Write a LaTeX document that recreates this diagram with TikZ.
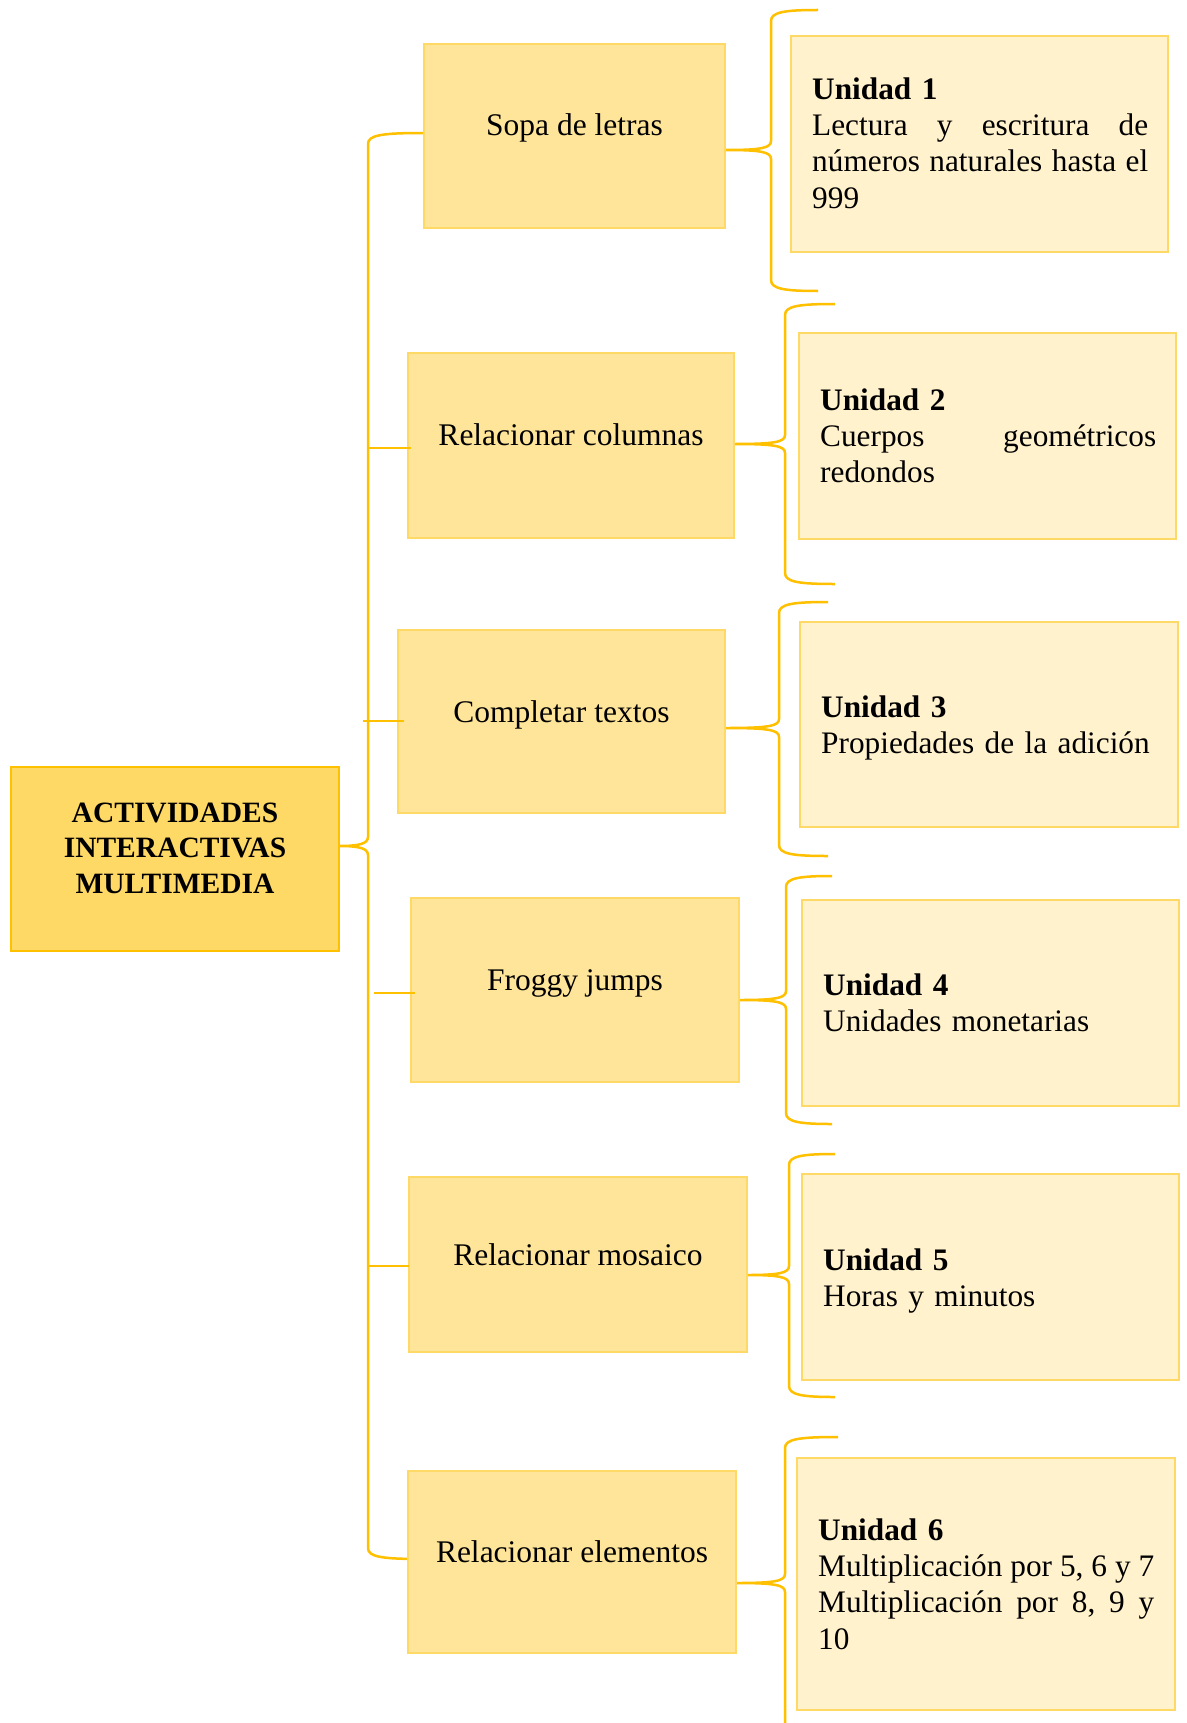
\documentclass[tikz,border=0pt]{standalone}
\usepackage{fontspec}
\setmainfont{Liberation Serif}
\definecolor{braceC}{HTML}{FFC000}
\definecolor{mainFill}{HTML}{FFD966}
\definecolor{midFill}{HTML}{FFE599}
\definecolor{midLine}{HTML}{FFD966}
\definecolor{unitFill}{HTML}{FFF2CC}
\definecolor{unitLine}{HTML}{FFD966}
\newcommand{\jl}[1]{\leavevmode\hbox to 336pt{#1}}
\newcommand{\gap}{\hfil}
% xv, xend, xtip, ytop, ytip, ybot
\newcommand{\wbrace}[6]{%
  \draw[bracestyle] (#2,#4) .. controls ({#1+14},#4) and (#1,{#4+2}) .. (#1,{#4+11})
    -- (#1,{#5-9}) .. controls (#1,{#5-2}) and ({#1-10},#5) .. (#3,#5)
    .. controls ({#1-10},#5) and (#1,{#5+2}) .. (#1,{#5+9})
    -- (#1,{#6-11}) .. controls (#1,{#6-2}) and ({#1+14},#6) .. (#2,#6);}
\begin{document}
\begin{tikzpicture}[x=1pt,y=-1pt,
  bracestyle/.style={draw=braceC,line width=2.5pt,line join=round},
  mainbox/.style={draw=braceC,fill=mainFill,line width=2.2pt,inner sep=0pt,outer sep=0pt,anchor=north west},
  actbox/.style={draw=midLine,fill=midFill,line width=1.6pt,inner sep=0pt,outer sep=0pt,anchor=north west},
  unitbox/.style={draw=unitLine,fill=unitFill,line width=1.6pt,inner sep=0pt,outer sep=0pt,anchor=north west},
  acttxt/.style={inner sep=0pt,anchor=base,font=\fontsize{31.5}{36.3}\selectfont},
  unittxt/.style={inner sep=0pt,anchor=north west,yshift=25.41pt,text width=370pt,align=left,font=\fontsize{31.3}{36.3}\selectfont},
  maintxt/.style={inner sep=0pt,anchor=north,yshift=24.85pt,align=center,font=\fontsize{29.5}{35.5}\selectfont\bfseries}]
\useasboundingbox (0,0) rectangle (1186,1723);
\fill[white] (0,0) rectangle (1186,1723);

% braces (drawn under boxes)
\wbrace{368}{424}{339}{133}{846}{1559}
\wbrace{771}{818}{726}{10}{150}{291}
\wbrace{785}{835}{734}{304}{444}{584}
\wbrace{779}{828}{726}{602}{728}{856}
\wbrace{786}{832}{740}{876}{1000}{1124}
\wbrace{789}{835}{747}{1154}{1275}{1397}
\wbrace{785}{838}{736}{1437}{1583}{1740}

% main box
\node[mainbox,minimum width=328pt,minimum height=184pt] (main) at (11,767) {};
\node[maintxt] (maint) at (175,822) {\strut ACTIVIDADES\\INTERACTIVAS\\MULTIMEDIA};

% activity boxes
\node[actbox,minimum width=301pt,minimum height=184pt] (l1) at (424,44) {};
\node[actbox,minimum width=326pt,minimum height=185pt] (l2) at (408,353) {};
\node[actbox,minimum width=327pt,minimum height=183pt] (l3) at (398,630) {};
\node[actbox,minimum width=328pt,minimum height=184pt] (l4) at (411,898) {};
\node[actbox,minimum width=338pt,minimum height=175pt] (l5) at (409,1177) {};
\node[actbox,minimum width=328pt,minimum height=182pt] (l6) at (408,1471) {};

\node[acttxt] (l1t) at (574.5,136) {Sopa de letras};
\node[acttxt] (l2t) at (571,445) {Relacionar columnas};
\node[acttxt] (l3t) at (561.5,722) {Completar textos};
\node[acttxt] (l4t) at (575,990) {Froggy jumps};
\node[acttxt] (l5t) at (578,1265) {Relacionar mosaico};
\node[acttxt] (l6t) at (572,1562) {Relacionar elementos};

% ticks from the main brace
\coordinate (k2) at (368,448);
\coordinate (k3) at (363,721);
\coordinate (k4) at (374,993);
\coordinate (k5) at (368,1266);
\draw[bracestyle] (k2) -- ([xshift=3pt]l2.west |- k2);
\draw[bracestyle] (k3) -- ([xshift=6pt]l3.west |- k3);
\draw[bracestyle] (k4) -- ([xshift=4pt]l4.west |- k4);
\draw[bracestyle] (k5) -- (l5.west |- k5);

% unit boxes
\node[unitbox,minimum width=377pt,minimum height=216pt] (r1) at (791,36) {};
\node[unitbox,minimum width=377pt,minimum height=206pt] (r2) at (799,333) {};
\node[unitbox,minimum width=378pt,minimum height=205pt] (r3) at (800,622) {};
\node[unitbox,minimum width=377pt,minimum height=206pt] (r4) at (802,900) {};
\node[unitbox,minimum width=377pt,minimum height=206pt] (r5) at (802,1174) {};
\node[unitbox,minimum width=378pt,minimum height=252pt] (r6) at (797,1458) {};

\node[unittxt] (r1t) at (812,99) {\strut\textbf{Unidad 1}\\\jl{Lectura\gap y\gap escritura\gap de}\\\jl{números\gap naturales\gap hasta\gap el}\\999};
\node[unittxt] (r2t) at (820,410) {\strut\textbf{Unidad 2}\\\jl{Cuerpos\gap geométricos}\\redondos};
\node[unittxt] (r3t) at (821,717) {\strut\textbf{Unidad 3}\\Propiedades de la adición};
\node[unittxt] (r4t) at (823,995) {\strut\textbf{Unidad 4}\\Unidades monetarias};
\node[unittxt] (r5t) at (823,1270) {\strut\textbf{Unidad 5}\\Horas y minutos};
\node[unittxt] (r6t) at (818,1540) {\strut\textbf{Unidad 6}\\\jl{Multiplicación\gap por\gap 5,\gap 6\gap y\gap 7}\\\jl{Multiplicación\gap por\gap 8,\gap 9\gap y}\\10};
\end{tikzpicture}
\end{document}
